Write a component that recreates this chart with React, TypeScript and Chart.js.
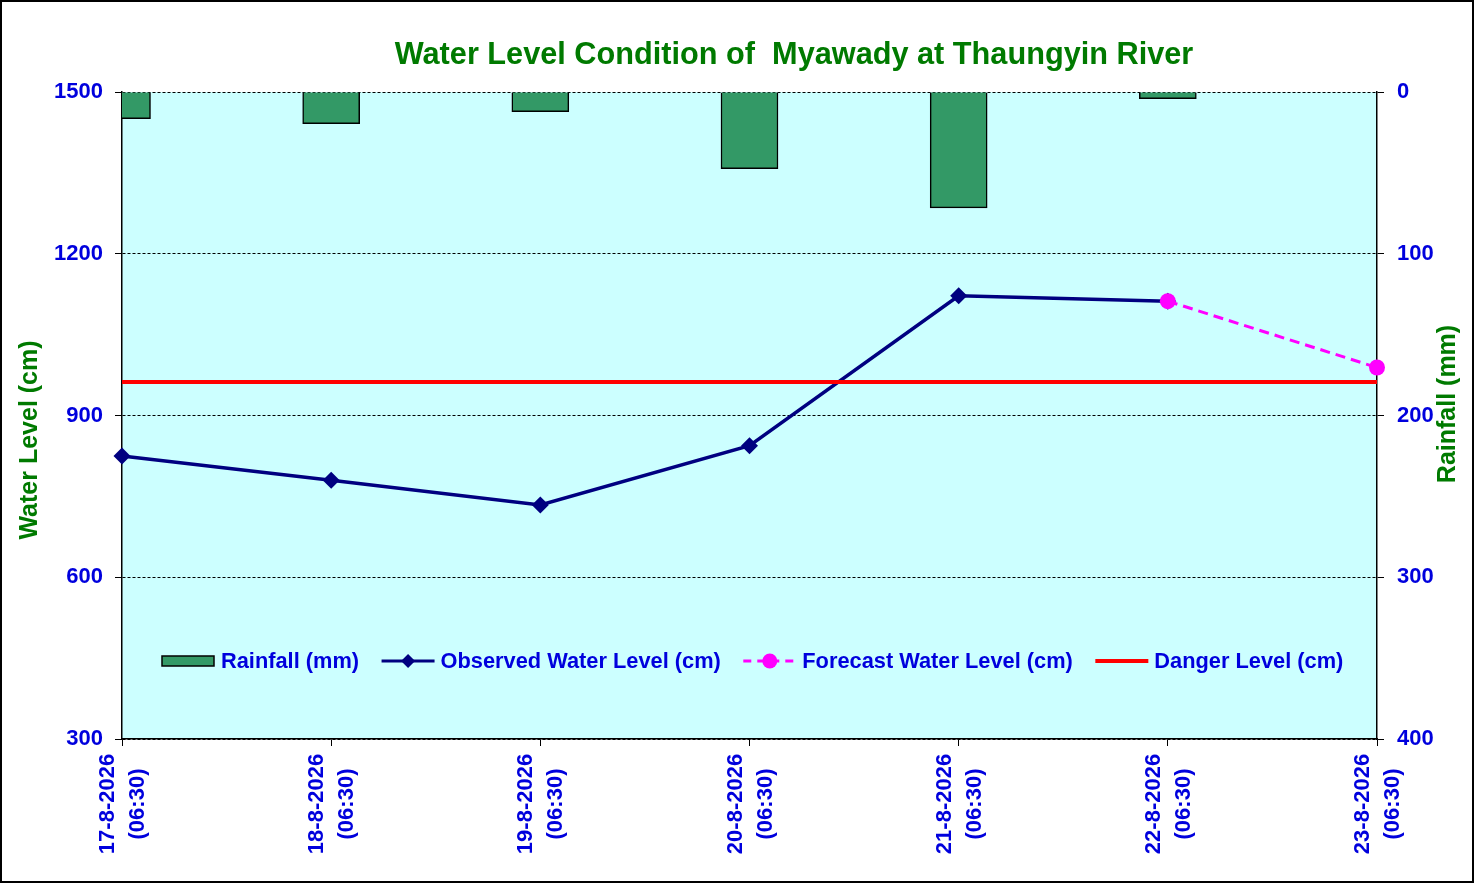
import { useEffect, useRef } from "react";
import { Chart, registerables } from "chart.js";

Chart.register(...registerables);

const dates = ["17-8-2026", "18-8-2026", "19-8-2026", "20-8-2026", "21-8-2026", "22-8-2026", "23-8-2026"];
const timeLabel = "(06:30)";
const rainfall = [16.5, 19.6, 12.2, 47.4, 71.6, 4.1, 0];
const observed = [825, 780, 734, 844, 1122, 1112, null];
const forecast = [null, null, null, null, null, 1112, 989];
const dangerLevel = [962, 962, 962, 962, 962, 962, 962];
const levelTicks = [300, 600, 900, 1200, 1500];
const rainTicks = [0, 100, 200, 300, 400];
const legendLabels = ["Rainfall (mm)", "Observed Water Level (cm)", "Forecast Water Level (cm)", "Danger Level (cm)"];

const title = "Water Level Condition of  Myawady at Thaungyin River";
const FONT = '"Liberation Sans", Arial, sans-serif';
const BLUE = "#0000DD";
const GREEN = "#007A00";
const BAR = "#339966";
const NAVY = "#000080";
const PINK = "#FF00FF";
const RED = "#FF0000";

const decor = {
  id: "decor",
  beforeDraw(chart: any) {
    const { ctx, chartArea: a } = chart;
    ctx.save();
    ctx.fillStyle = "#ffffff";
    ctx.fillRect(0, 0, chart.width, chart.height);
    ctx.fillStyle = "#CCFFFF";
    ctx.fillRect(a.left, a.top, a.right - a.left, a.bottom - a.top);
    ctx.restore();
  },
  afterDraw(chart: any) {
    const { ctx, chartArea: a } = chart;
    ctx.save();

    // title
    ctx.fillStyle = GREEN;
    ctx.font = `bold 30.7px ${FONT}`;
    ctx.textAlign = "center";
    ctx.textBaseline = "alphabetic";
    ctx.fillText(title, 794, 64);

    // axis titles
    ctx.font = `bold 25px ${FONT}`;
    ctx.textBaseline = "middle";
    ctx.save();
    ctx.translate(30, 440);
    ctx.rotate(-Math.PI / 2);
    ctx.fillText("Water Level (cm)", 0, 0);
    ctx.restore();
    ctx.save();
    ctx.translate(1448, 404);
    ctx.rotate(-Math.PI / 2);
    ctx.fillText("Rainfall (mm)", 0, 0);
    ctx.restore();

    // x labels, two centred lines per tick
    const xs = chart.scales.x;
    ctx.fillStyle = BLUE;
    ctx.font = `bold 22px ${FONT}`;
    dates.forEach((d, i) => {
      const px = xs.getPixelForValue(i);
      ctx.save();
      ctx.translate(px, a.bottom + 65);
      ctx.rotate(-Math.PI / 2);
      ctx.fillText(d, 0, -14);
      ctx.fillText(timeLabel, 0, 16);
      ctx.restore();
    });

    // legend inside the plot
    const ly = 661;
    let x = 162;
    ctx.font = `bold 21.8px ${FONT}`;
    ctx.textAlign = "left";
    legendLabels.forEach((label, i) => {
      const sw = 53;
      if (i === 0) {
        ctx.fillStyle = BAR;
        ctx.fillRect(x, ly - 5, sw - 1, 10);
        ctx.strokeStyle = "#000";
        ctx.lineWidth = 1.5;
        ctx.strokeRect(x, ly - 5, sw - 1, 10);
      } else {
        const color = i === 1 ? NAVY : i === 2 ? PINK : RED;
        ctx.strokeStyle = color;
        ctx.lineWidth = i === 3 ? 4 : 3;
        ctx.setLineDash(i === 2 ? [8, 6] : []);
        ctx.beginPath();
        ctx.moveTo(x, ly);
        ctx.lineTo(x + sw, ly);
        ctx.stroke();
        ctx.setLineDash([]);
        ctx.fillStyle = color;
        if (i === 1) {
          ctx.beginPath();
          ctx.moveTo(x + sw / 2, ly - 7);
          ctx.lineTo(x + sw / 2 + 7, ly);
          ctx.lineTo(x + sw / 2, ly + 7);
          ctx.lineTo(x + sw / 2 - 7, ly);
          ctx.closePath();
          ctx.fill();
        } else if (i === 2) {
          ctx.beginPath();
          ctx.arc(x + sw / 2, ly, 7.5, 0, Math.PI * 2);
          ctx.fill();
        }
      }
      ctx.fillStyle = BLUE;
      ctx.fillText(label, x + sw + 6, ly + 1);
      x += sw + 6 + ctx.measureText(label).width + 22.5;
    });

    // outer frame
    ctx.strokeStyle = "#000";
    ctx.lineWidth = 2;
    ctx.strokeRect(1, 1, chart.width - 2, chart.height - 2);
    ctx.restore();
  },
};

const tickFont = { family: FONT, size: 22, weight: "bold" as const };

const App = () => {
  const chartRef = useRef<HTMLCanvasElement>(null);

  useEffect(() => {
    document.body.style.margin = "0";
    if (!chartRef.current) return;

    const chart = new Chart(chartRef.current, {
      type: "bar",
      data: {
        labels: dates,
        datasets: [
          {
            type: "line",
            label: "Forecast Water Level (cm)",
            data: forecast,
            yAxisID: "y",
            borderColor: PINK,
            backgroundColor: PINK,
            borderWidth: 3,
            borderDash: [10, 6],
            pointStyle: "circle",
            pointRadius: 8,
            pointBorderWidth: 0,
            clip: false,
            order: 1,
          },
          {
            type: "line",
            label: "Danger Level (cm)",
            data: dangerLevel,
            yAxisID: "y",
            borderColor: RED,
            borderWidth: 4,
            pointRadius: 0,
            order: 2,
          },
          {
            type: "line",
            label: "Observed Water Level (cm)",
            data: observed,
            yAxisID: "y",
            borderColor: NAVY,
            backgroundColor: NAVY,
            borderWidth: 3.5,
            pointStyle: "rectRot",
            pointRadius: 8.5,
            pointBorderWidth: 0,
            clip: false,
            order: 3,
          },
          {
            type: "bar",
            label: "Rainfall (mm)",
            data: rainfall,
            yAxisID: "y1",
            backgroundColor: BAR,
            borderColor: "#000",
            borderWidth: 1.5,
            barThickness: 57,
            order: 5,
          },
        ],
      },
      options: {
        responsive: true,
        maintainAspectRatio: false,
        animation: false,
        layout: { padding: { top: 92, left: 0, right: 0, bottom: 0 } },
        plugins: {
          legend: { display: false },
          title: { display: false },
          tooltip: { enabled: false },
        },
        scales: {
          x: {
            offset: false,
            grid: {
              offset: false,
              drawOnChartArea: false,
              drawTicks: true,
              tickLength: 7,
              tickColor: "#000",
              tickBorderDash: [],
            },
            border: { color: "#000", width: 1.5 },
            ticks: { display: false },
            afterFit: (s: any) => {
              s.height = 144;
            },
          },
          y: {
            position: "left",
            min: levelTicks[0],
            max: levelTicks[levelTicks.length - 1],
            ticks: {
              stepSize: levelTicks[1] - levelTicks[0],
              color: BLUE,
              font: tickFont,
              padding: 12,
              callback: (v: any) => String(v),
            },
            grid: {
              color: "#000",
              lineWidth: 1,
              tickLength: 7,
              tickColor: "#000",
              tickBorderDash: [],
            },
            border: { color: "#000", width: 1.5, dash: [3, 2] },
            afterFit: (s: any) => {
              s.width = 122;
            },
          },
          y1: {
            position: "right",
            reverse: true,
            min: rainTicks[0],
            max: rainTicks[rainTicks.length - 1],
            ticks: {
              stepSize: rainTicks[1] - rainTicks[0],
              color: BLUE,
              font: tickFont,
              padding: 13,
              callback: (v: any) => String(v),
            },
            grid: {
              drawOnChartArea: false,
              tickLength: 7,
              tickColor: "#000",
              tickBorderDash: [],
            },
            border: { color: "#000", width: 1.5 },
            afterFit: (s: any) => {
              s.width = 97;
            },
          },
        },
      },
      plugins: [decor],
    } as any);

    return () => {
      chart.destroy();
    };
  }, []);

  return (
    <div style={{ width: "1474px", height: "883px", position: "relative" }}>
      <canvas ref={chartRef} />
    </div>
  );
};

export default App;
